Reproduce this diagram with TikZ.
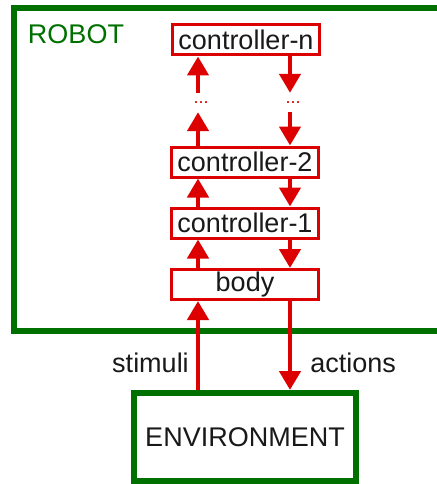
\documentclass[tikz,border=0pt]{standalone}
\usepackage{fontspec}
\setmainfont{Liberation Sans}
\usetikzlibrary{arrows.meta}

\definecolor{robotgreen}{RGB}{0,112,0}
\definecolor{ctrlred}{RGB}{221,0,0}

\tikzset{
  txt/.style={font=\fontsize{27}{31}\selectfont, text=black!90, inner sep=0pt},
  ctrl/.style={txt, draw=ctrlred, line width=3pt, fill=white, minimum width=147pt, minimum height=30pt},
  envbox/.style={draw=robotgreen, line width=6pt, inner sep=0pt},
  flow/.style={draw=ctrlred, line width=4.5pt, -{Triangle[length=19pt,width=21pt]}},
  gap/.style={text=ctrlred, font=\fontsize{18}{18}\selectfont, inner sep=0pt, minimum height=19pt}
}

\begin{document}
\begin{tikzpicture}[x=1pt,y=-1pt]
\useasboundingbox (0,0) rectangle (436,484);
% robot outline, right side runs off the page
\node[envbox, minimum width=431pt, minimum height=323pt] (robot) at (229.5,169.5) {};
\node[txt, text=robotgreen] (robotlbl) at (76,34) {ROBOT};

% controller stack
\node[ctrl] (cn) at (246,40) {controller-n};
\node[ctrl] (c2) at (245,162) {controller-2};
\node[ctrl] (c1) at (245,223) {controller-1};
\node[ctrl] (body) at (245,284.5) {body};
\node[envbox, txt, minimum width=222pt, minimum height=88pt] (env) at (245,437) {ENVIRONMENT};

% the two columns of arrows
\coordinate (up) at (198,0);
\coordinate (dn) at (290,0);
\node[gap] (upgap) at (201,102.5) {...};
\node[gap] (dngap) at (293,102.5) {...};

\draw[flow] (body.north -| up) -- (c1.south -| up);
\draw[flow] (c1.north -| up) -- (c2.south -| up);
\draw[flow] (c2.north -| up) -- (upgap.south -| up);
\draw[flow] (upgap.north -| up) -- (cn.south -| up);
\draw[flow] (cn.south -| dn) -- (dngap.north -| dn);
\draw[flow] (dngap.south -| dn) -- (c2.north -| dn);
\draw[flow] (c2.south -| dn) -- (c1.north -| dn);
\draw[flow] (c1.south -| dn) -- (body.north -| dn);

% sensing and acting
\draw[flow] (env.north -| up) -- node[pos=0.3, txt, anchor=east, xshift=-7pt] (stimlbl) {stimuli} (body.south -| up);
\draw[flow] (body.south -| dn) -- node[pos=0.69, txt, anchor=west, xshift=18pt] (actlbl) {actions} (env.north -| dn);
\end{tikzpicture}
\end{document}
